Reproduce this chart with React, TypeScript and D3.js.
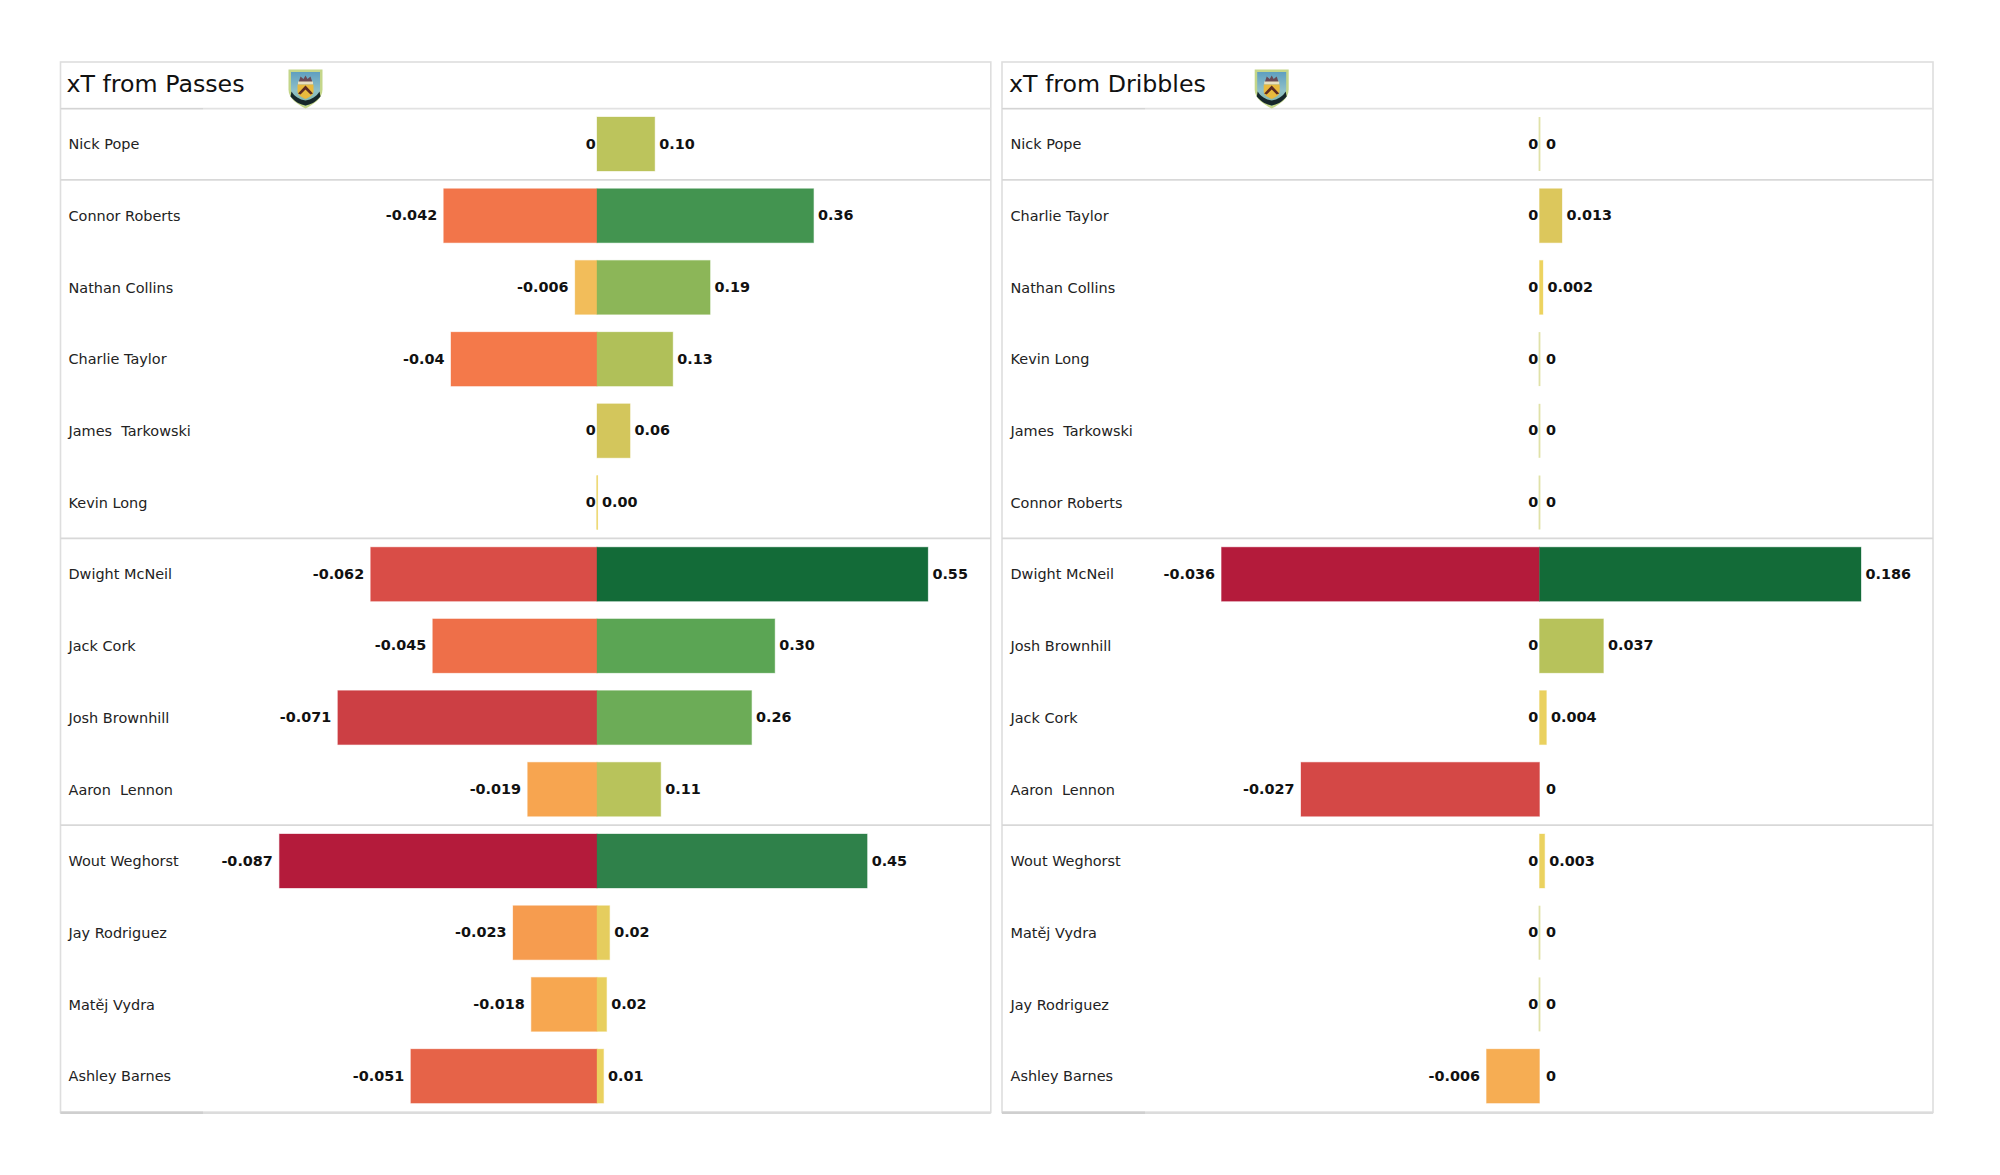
import React from "react";
import * as d3 from "d3";

const passNames = ["Nick Pope","Connor Roberts","Nathan Collins","Charlie Taylor","James  Tarkowski","Kevin Long","Dwight McNeil","Jack Cork","Josh Brownhill","Aaron  Lennon","Wout Weghorst","Jay Rodriguez","Matěj Vydra","Ashley Barnes"];
const passNeg = [0,-0.042,-0.006,-0.04,0,0,-0.062,-0.045,-0.071,-0.019,-0.087,-0.023,-0.018,-0.051];
const passPos = [0.096,0.36,0.188,0.126,0.055,0.001,0.55,0.2955,0.257,0.106,0.449,0.021,0.016,0.011];
const dribNames = ["Nick Pope","Charlie Taylor","Nathan Collins","Kevin Long","James  Tarkowski","Connor Roberts","Dwight McNeil","Josh Brownhill","Jack Cork","Aaron  Lennon","Wout Weghorst","Matěj Vydra","Jay Rodriguez","Ashley Barnes"];
const dribNeg = [0,0,0,0,0,0,-0.036,0,0,-0.027,0,0,0,-0.006];
const dribPos = [0,0.013,0.002,0,0,0,0.186,0.037,0.004,0,0.003,0,0,0];
const groupStarts = [1,6,10];

const negColor = d3.scaleLinear<string>()
  .domain([0,0.07,0.2,0.46,0.7,0.82,1])
  .range(["#f2d060","#f2bd5a","#f7a850","#f4794a","#da4f47","#cc3e44","#b41b3b"]);
const posColor = d3.scaleLinear<string>()
  .domain([0,0.07,0.175,0.23,0.34,0.47,0.54,0.66,0.82,1])
  .range(["#f0d560","#dcc75c","#bcc45c","#b0c059","#8cb658","#6bac57","#5aa554","#429350","#2f814a","#136b38"]);

const FONT = "'DejaVu Sans', sans-serif";
const y0 = 108.15, rowStep = 71.7;

function Crest({ x, y, id }: { x: number; y: number; id: string }) {
  return (
    <g transform={`translate(${x},${y})`} filter={`url(#${id}b)`}>
      <defs>
        <linearGradient id={id} x1="0" y1="0" x2="0" y2="1">
          <stop offset="0" stopColor="#5f9fc0" />
          <stop offset="0.55" stopColor="#8fc0c8" />
          <stop offset="1" stopColor="#7fb3a0" />
        </linearGradient>
        <filter id={`${id}b`} x="-10%" y="-10%" width="120%" height="120%"><feGaussianBlur stdDeviation="0.45" /></filter>
      </defs>
      <path d="M0 0H34V20C34 29 25 35 17 39C9 35 0 29 0 20Z" fill="#c4d68a" />
      <path d="M2.5 2.5H31.5V20C31.5 27.5 24 33 17 36.5C10 33 2.5 27.5 2.5 20Z" fill={`url(#${id})`} />
      <path d="M10 13L12 7L15 9.5L17 6L19 9.5L22 7L24 13Z" fill="#6b4a55" />
      <rect x="9.5" y="12" width="15" height="3" fill="#e7dfc0" />
      <path d="M9 15H25V22C25 26 20 28 17 29.5C14 28 9 26 9 22Z" fill="#e9b93c" />
      <path d="M9.5 24L17 16L24.5 24L22 25L17 20L12 25Z" fill="#5b2a20" />
      <path d="M3 22C6 27 11 30 17 31C23 30 28 27 31 22L32 27C27 33 22 35 17 36C12 35 7 33 2 27Z" fill="#16282c" />
    </g>
  );
}

function Panel({ title, names, neg, pos, left, right, zero, negEnd, posEnd, titleX, nameX, crestX, darkEnd, posFmt, id, zeroStroke }: any) {
  const yBand = d3.scaleBand<string>().domain(names).range([y0, y0 + rowStep * names.length]).paddingInner(0.247).paddingOuter(0.1235);
  const xNeg = d3.scaleLinear().domain([d3.min(neg) as number, 0]).range([negEnd, zero]);
  const xPos = d3.scaleLinear().domain([0, d3.max(pos) as number]).range([zero, posEnd]);
  const maxNeg = -(d3.min(neg) as number), maxPos = d3.max(pos) as number;
  const bottom = y0 + rowStep * names.length;
  const lineAt = groupStarts.map((i) => y0 + rowStep * i);
  return (
    <g>
      <rect x={left} y={62} width={right - left} height={bottom + 0.5 - 62} fill="#fff" stroke="#dedede" strokeWidth={1.6} />
      <line x1={left} x2={right} y1={y0 + 0.5} y2={y0 + 0.5} stroke="#e2e2e2" strokeWidth={1.6} />
      <line x1={left} x2={darkEnd} y1={y0 + 0.5} y2={y0 + 0.5} stroke="#d4d4d4" strokeWidth={1.4} />
      <line x1={left} x2={right} y1={bottom + 0.8} y2={bottom + 0.8} stroke="#dcdcdc" strokeWidth={2.4} />
      <line x1={left} x2={darkEnd} y1={bottom + 0.8} y2={bottom + 0.8} stroke="#cfcfcf" strokeWidth={2.4} />
      {lineAt.map((yy) => <line key={yy} x1={left} x2={right} y1={yy} y2={yy} stroke="#d8d8d8" strokeWidth={1.6} />)}
      <text x={titleX} y={91.8} fontFamily={FONT} fontSize={23.7} fill="#111">{title}</text>
      <Crest x={crestX} y={69.5} id={id} />
      {names.map((name: string, i: number) => {
        const by = yBand(name) as number, h = yBand.bandwidth(), cy = by + h / 2;
        const n = neg[i], p = pos[i];
        const nx = xNeg(n), px = xPos(p);
        return (
          <g key={name}>
            <text x={nameX} y={cy + 5.2} fontFamily={FONT} fontSize={14.45} fill="#222" style={{ whiteSpace: "pre" }}>{name}</text>
            {n === 0 && p < 0.002 ? <line x1={zero} x2={zero} y1={by} y2={by + h} stroke={zeroStroke} strokeWidth={1.8} /> : null}
            <rect x={nx} y={by} width={zero - nx} height={h} fill={negColor(-n / maxNeg)} stroke={negColor(-n / maxNeg)} strokeOpacity={0.35} strokeWidth={1} />
            <rect x={zero} y={by} width={px - zero} height={h} fill={posColor(p / maxPos)} stroke={posColor(p / maxPos)} strokeOpacity={0.35} strokeWidth={1} />
            <text x={n === 0 ? zero - 1.2 : nx - 6.5} y={cy + 4.5} textAnchor="end" fontFamily={FONT} fontWeight="bold" fontSize={14.4} fill="#111">{String(n)}</text>
            <text x={p === 0 ? zero + 6.5 : px + 4.5} y={cy + 4.5} fontFamily={FONT} fontWeight="bold" fontSize={14.4} fill="#111">{posFmt(p)}</text>
          </g>
        );
      })}
    </g>
  );
}

export default function App() {
  return (
    <svg width={2000} height={1175} viewBox="0 0 2000 1175" style={{ position: "absolute", left: 0, top: 0, display: "block", background: "#fff" }}>
      <Panel id="c1" title="xT from Passes" names={passNames} neg={passNeg} pos={passPos} left={60.5} right={990.8} zero={597} negEnd={279.4} posEnd={927.9}
        titleX={66.5} nameX={68.5} crestX={288.5} darkEnd={203} zeroStroke="#f1e6ae" posFmt={(v: number) => v.toFixed(2)} />
      <Panel id="c2" title="xT from Dribbles" names={dribNames} neg={dribNeg} pos={dribPos} left={1002} right={1933} zero={1539.5} negEnd={1221.5} posEnd={1861}
        titleX={1009} nameX={1010.5} crestX={1254.7} darkEnd={1145} zeroStroke="#e0e2a8" posFmt={(v: number) => String(v)} />
    </svg>
  );
}
